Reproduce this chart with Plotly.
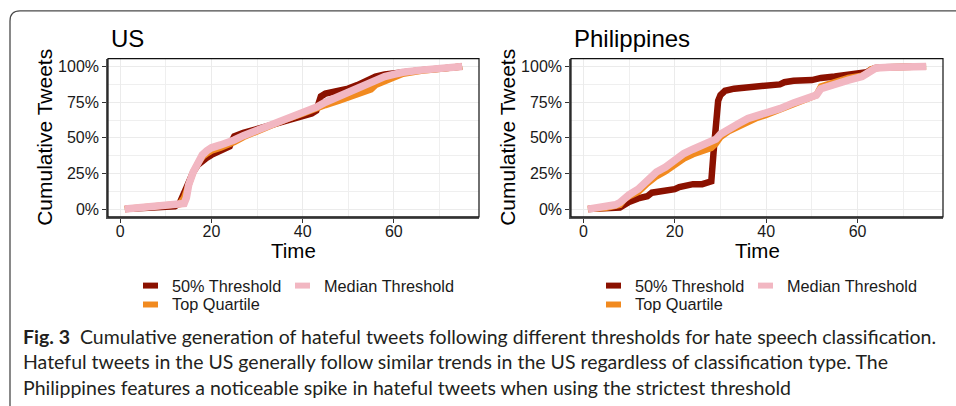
import plotly.graph_objects as go

W, H = 956, 406

# ---------------------------------------------------------------- data
SERIES = ["50% Threshold", "Top Quartile", "Median Threshold"]

# US
us_thr50_t = [1, 5, 10, 12, 13, 14, 15, 16, 17, 18, 19, 20, 22, 23, 24, 24.5, 25, 27, 30, 33,
              36, 40, 42, 43, 43.5, 44, 45, 48, 50, 52, 54, 56, 58, 62, 66, 70, 75]
us_thr50_y = [0, 0.5, 1.5, 2, 4, 12, 20, 26, 31, 34, 36, 38, 40.5, 42, 44, 48, 51, 53.5, 56, 59.5,
              62, 65, 67, 69, 75, 79, 81, 83, 84.5, 87, 90, 93, 94.5, 96.5, 97.5, 98.5, 100]

us_topq_t = [1, 5, 10, 13, 14, 15, 16, 17, 18, 19, 20, 22, 24, 25, 27, 30, 33, 36, 40, 43,
             45, 48, 50, 52, 54, 55, 56, 58, 60, 62, 66, 70, 75]
us_topq_y = [0, 1, 2.5, 3.5, 8, 18, 26, 32, 36.5, 39, 41, 43, 45, 47, 50.5, 54.5, 59, 62.5, 67, 71,
             73, 76, 78, 80, 82, 84, 87, 90, 92.5, 95, 97, 98.5, 100]

us_median_t = [1, 5, 10, 13, 14, 14.5, 15, 16, 17, 18, 19, 20, 22, 24, 25, 27, 30, 33, 36, 40,
               43, 45, 48, 50, 52, 54, 56, 58, 60, 62, 66, 70, 75]
us_median_y = [0, 1, 2, 3, 4, 8, 17, 26, 33, 38, 41, 43, 45, 46.5, 48.5, 51.5, 55, 59.5, 63, 68,
               71.5, 75, 79, 82, 84.5, 87, 91, 93, 94.5, 96, 97.5, 98.5, 100]

# Philippines
ph_thr50_t = [1, 5, 8, 9, 10, 12, 14, 15, 18, 20, 21, 22, 24, 26, 27, 28, 28.5, 29, 29.5, 30,
              31, 33, 36, 40, 43, 44, 46, 50, 52, 55, 58, 61, 62, 63, 64, 66, 70, 75]
ph_thr50_y = [0, 0.5, 1, 3, 5, 7.5, 9, 11.5, 12.5, 14, 15.5, 16.5, 17.5, 17.5, 18.5, 19.5, 40, 64, 76, 80,
              83, 84.5, 85.5, 87, 87.5, 89, 90, 90.5, 92, 93, 94, 95.5, 96, 98, 99, 99.5, 99.8, 100]

ph_topq_t = [1, 5, 8, 9, 10, 12, 14, 16, 18, 20, 22, 24, 26, 28, 29, 30, 32, 34, 36, 38,
             40, 43, 46, 50, 51, 52, 55, 58, 61, 62, 63, 64, 67, 70, 75]
ph_topq_y = [0, 1, 3, 7, 9, 12, 18, 23, 26.5, 31.5, 35.5, 38.5, 41, 43, 46, 50.5, 55, 58, 62, 64,
             66, 69.5, 74, 78, 80, 86, 89, 92, 93.5, 95, 98, 99, 99.5, 99.8, 100]

ph_median_t = [1, 5, 7, 8, 9, 10, 12, 14, 16, 18, 20, 22, 24, 26, 28, 29, 30, 32, 34, 36,
               38, 40, 43, 46, 50, 51, 52, 55, 58, 61, 62, 63, 64, 67, 70, 75]
ph_median_y = [0, 1.5, 3, 4.5, 8, 10, 14, 20, 26, 29.5, 35, 39, 42, 44.5, 47, 49, 52.5, 57, 60, 63.5,
               65.5, 67, 70.5, 74.5, 78.5, 80, 84.5, 88, 90.5, 93, 95, 98, 99, 99.5, 99.8, 100]

y_ticks = [0, 25, 50, 75, 100]
y_tick_labels = ["0%", "25%", "50%", "75%", "100%"]
x_ticks = [0, 20, 40, 60]

CAPTION = [
    "<b>Fig. 3</b>  Cumulative generation of hateful tweets following different thresholds for hate speech classification.",
    "Hateful tweets in the US generally follow similar trends in the US regardless of classification type. The",
    "Philippines features a noticeable spike in hateful tweets when using the strictest threshold",
]

# ---------------------------------------------------------------- style
COLORS = {"50% Threshold": "#8B1100", "Top Quartile": "#F18A1F", "Median Threshold": "#F2B7C2"}
WIDTHS = {"50% Threshold": 6.5, "Top Quartile": 6.5, "Median Threshold": 7.5}
FONT = "Liberation Sans, Arial, sans-serif"
TXT = "#1a1a1a"


def fx(px):
    return px / W


def fy(py):
    return 1 - py / H


panels = [
    dict(title="US", xref="x", yref="y", left=108, right=479,
         data={"50% Threshold": (us_thr50_t, us_thr50_y),
               "Top Quartile": (us_topq_t, us_topq_y),
               "Median Threshold": (us_median_t, us_median_y)}),
    dict(title="Philippines", xref="x2", yref="y2", left=571, right=943,
         data={"50% Threshold": (ph_thr50_t, ph_thr50_y),
               "Top Quartile": (ph_topq_t, ph_topq_y),
               "Median Threshold": (ph_median_t, ph_median_y)}),
]
PLOT_TOP, PLOT_BOTTOM = 58, 217

fig = go.Figure()
annotations = []
shapes = []

for i, p in enumerate(panels):
    for name in SERIES:
        t, y = p["data"][name]
        fig.add_trace(go.Scatter(
            x=t, y=y, mode="lines", name=name, showlegend=False,
            line=dict(color=COLORS[name], width=WIDTHS[name]),
            xaxis=p["xref"], yaxis=p["yref"], hoverinfo="skip"))

    suffix = "" if i == 0 else str(i + 1)
    axis_common = dict(
        showgrid=True, gridcolor="#EBEBEB", gridwidth=1.1, zeroline=False,
        ticks="outside", ticklen=4, tickwidth=1, tickcolor="#333333",
        tickfont=dict(family=FONT, size=16, color=TXT),
        showline=True, linecolor="#555555", linewidth=1.6, fixedrange=True,
    )
    fig.layout["xaxis" + suffix] = dict(
        axis_common, domain=[fx(p["left"]), fx(p["right"])], range=[-2.7, 78.7],
        tickvals=x_ticks, anchor="y" + suffix, ticklabelstandoff=-5,
        minor=dict(tickvals=[10, 30, 50, 70], showgrid=True, gridcolor="#EFEFEF",
                   gridwidth=0.6, ticks=""))
    fig.layout["yaxis" + suffix] = dict(
        axis_common, domain=[fy(PLOT_BOTTOM), fy(PLOT_TOP)], range=[-5.5, 105.5],
        tickvals=y_ticks, ticktext=y_tick_labels, anchor="x" + suffix,
        minor=dict(tickvals=[12.5, 37.5, 62.5, 87.5], showgrid=True, gridcolor="#EFEFEF",
                   gridwidth=0.6, ticks=""))

    xd = "x" + suffix + " domain" if suffix else "x domain"
    yd = "y" + suffix + " domain" if suffix else "y domain"
    shapes.append(dict(type="rect", xref=xd, yref=yd, x0=0, x1=1, y0=0, y1=1,
                       line=dict(color="#111111", width=1.2), layer="above"))

    # panel title
    annotations.append(dict(text=p["title"], x=fx(p["left"] + 1), y=fy(38), xref="paper", yref="paper",
                            xanchor="left", yanchor="middle", showarrow=False,
                            font=dict(family=FONT, size=24, color="#000000")))
    # axis titles
    annotations.append(dict(text="Cumulative Tweets", x=fx(p["left"] - 63), y=fy((PLOT_TOP + PLOT_BOTTOM) / 2),
                            xref="paper", yref="paper", textangle=-90, xanchor="center", yanchor="middle",
                            showarrow=False, font=dict(family=FONT, size=21, color="#000000")))
    annotations.append(dict(text="Time", x=fx((p["left"] + p["right"]) / 2), y=fy(250.5),
                            xref="paper", yref="paper", xanchor="center", yanchor="middle",
                            showarrow=False, font=dict(family=FONT, size=20.5, color="#000000")))

    # legend: two columns, column-major order
    base = p["left"] + 35
    slots = {"50% Threshold": (0, 0), "Top Quartile": (0, 1), "Median Threshold": (1, 0)}
    for name in SERIES:
        col, row = slots[name]
        sx = base + col * 152
        sy = 286 + row * 19
        shapes.append(dict(type="rect", xref="paper", yref="paper",
                           x0=fx(sx), x1=fx(sx + 15), y0=fy(sy + 3), y1=fy(sy - 3),
                           fillcolor=COLORS[name], line=dict(width=0)))
        annotations.append(dict(text=name, x=fx(sx + 27), y=fy(sy), xref="paper", yref="paper",
                                xanchor="left", yanchor="middle", showarrow=False,
                                font=dict(family=FONT, size=16.3, color=TXT)))

# caption
for k, line in enumerate(CAPTION):
    annotations.append(dict(text=line, x=fx(21), y=fy(337 + k * 25.5), xref="paper", yref="paper",
                            xanchor="left", yanchor="middle", showarrow=False,
                            font=dict(family="Lato, sans-serif", size=19.5, color="#231F20")))

# figure frame (open on right and bottom)
r = 10
frame_path = (f"M {fx(W + 5)},{fy(10)} L {fx(10 + r)},{fy(10)} "
              f"Q {fx(10)},{fy(10)} {fx(10)},{fy(10 + r)} L {fx(10)},{fy(H + 5)}")
shapes.append(dict(type="path", xref="paper", yref="paper", path=frame_path,
                   line=dict(color="#4a4a4a", width=1.3)))

fig.update_layout(
    width=W, height=H, margin=dict(l=0, r=0, t=0, b=0),
    paper_bgcolor="white", plot_bgcolor="white", showlegend=False,
    annotations=annotations, shapes=shapes,
)

fig.write_html("out.html", config={"displayModeBar": False})
